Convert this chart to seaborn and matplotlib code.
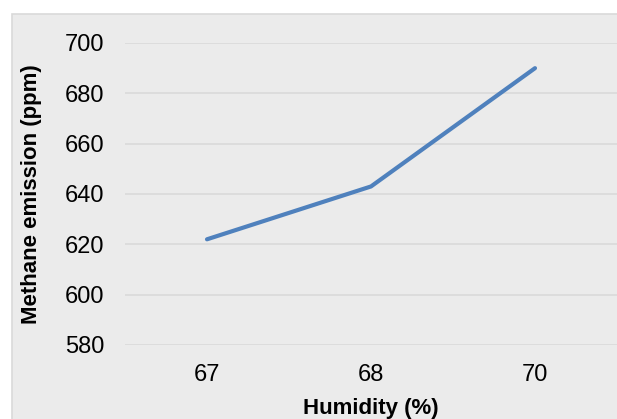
import matplotlib
matplotlib.use("Agg")
import matplotlib.pyplot as plt
from matplotlib.patches import Rectangle
import seaborn as sns
import pandas as pd

# data
humidity = ["67", "68", "70"]
methane = [622, 643, 690]
yticks = [580, 600, 620, 640, 660, 680, 700]

df = pd.DataFrame({"Humidity": humidity, "Methane": methane})

sns.set_style("white")
plt.rcParams["font.family"] = ["Liberation Sans", "DejaVu Sans"]

fig = plt.figure(figsize=(6.17, 4.19), dpi=100, facecolor="white")
# grey chart panel
fig.patches.append(Rectangle((12 / 617, -0.01), 1.0, (419 - 14) / 419 + 0.01,
                             transform=fig.transFigure, facecolor="#ebebeb",
                             edgecolor="#d9d9d9", linewidth=1.2, zorder=-10))

ax = fig.add_axes([125 / 617, (419 - 345) / 419, 492 / 617, 302 / 419])
ax.set_zorder(1)
ax.set_facecolor("#ebebeb")

sns.lineplot(data=df, x="Humidity", y="Methane", sort=False, ax=ax,
             color="#4f81bd", linewidth=3.0, solid_capstyle="round")

ax.set_xlim(-0.5, 2.5)
ax.set_ylim(580, 700)
ax.set_yticks(yticks)
ax.yaxis.grid(True, color="#d9d9d9", linewidth=1.2)
ax.xaxis.grid(False)
ax.set_axisbelow(True)
for s in ax.spines.values():
    s.set_visible(False)
ax.tick_params(axis="both", length=0, labelsize=17, labelcolor="black")
ax.tick_params(axis="x", pad=14)
ax.tick_params(axis="y", pad=15)

lab = dict(fontweight="bold", fontsize=16, color="black")
ax.set_xlabel("Humidity (%)", va="center", **lab)
ax.set_ylabel("Methane emission (ppm)", va="center", ha="center", **lab)
ax.xaxis.set_label_coords(0.5, (345 - 408) / 302)
ax.yaxis.set_label_coords((32 - 125) / 492, 0.5)

fig.savefig("out.png", dpi=100, facecolor="white")
